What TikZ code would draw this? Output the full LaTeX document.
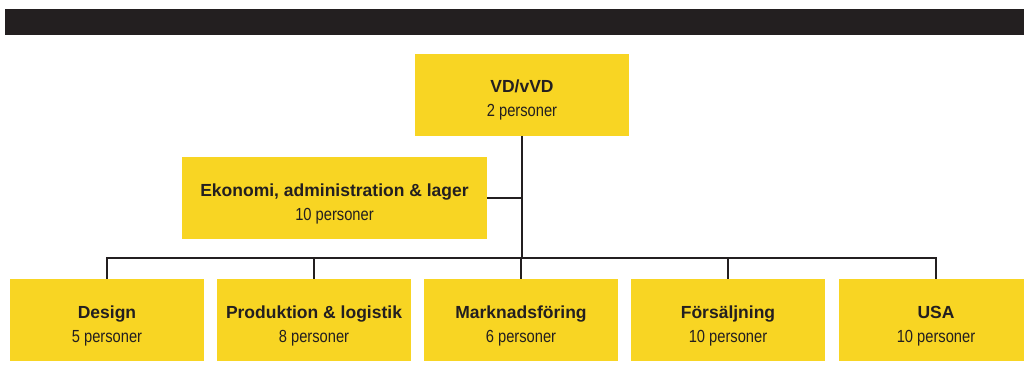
\documentclass[tikz,border=0pt]{standalone}
\usepackage{fontspec}
\setmainfont{Liberation Sans}
\newfontfamily\condfont[FakeStretch=0.84]{Liberation Sans}
\definecolor{ink}{HTML}{231F20}
\definecolor{gul}{HTML}{F8D523}
\newcommand\twoline[2]{\makebox[0pt]{\raisebox{2pt}[0pt][0pt]{\bfseries #1}}\makebox[0pt]{\raisebox{-22pt}[0pt][0pt]{\condfont #2}}}
\tikzset{
  orgbox/.style={fill=gul, draw=none, inner sep=0pt, minimum height=82pt, text=ink,
    font=\fontsize{17.5}{21}\selectfont},
  smallbox/.style={orgbox, minimum width=194pt},
  conn/.style={draw=ink, line width=1.4pt},
}
\begin{document}
\begin{tikzpicture}[x=1pt,y=-1pt]
\clip (0,0) rectangle (1024,385);
\useasboundingbox (0,0) rectangle (1024,385);
\fill[ink] (5,9) rectangle (1024,35);
\node[orgbox, minimum width=214pt] (vd) at (522,95) {\twoline{VD/vVD}{2 personer}};
\node[orgbox, minimum width=305pt] (eko) at (334.5,198) {\twoline{Ekonomi, administration \& lager}{10 personer}};
\node[smallbox] (des) at (107,320) {\twoline{Design}{5 personer}};
\node[smallbox] (pro) at (314,320) {\twoline{Produktion \& logistik}{8 personer}};
\node[smallbox] (mar) at (521,320) {\twoline{Marknadsföring}{6 personer}};
\node[smallbox] (for) at (728,320) {\twoline{Försäljning}{10 personer}};
\node[smallbox] (usa) at (936,320) {\twoline{USA}{10 personer}};
\coordinate (bus) at (522,258);
\coordinate (ekoj) at (522,198);
\draw[conn] (vd.south -| bus) -- (bus);
\draw[conn] (eko.east) -- (ekoj);
\draw[conn, line cap=rect] (des.north |- bus) -- (usa.north |- bus);
\foreach \n in {des,pro,mar,for,usa}{
  \draw[conn] (\n.north |- bus) -- (\n.north);
}
\end{tikzpicture}
\end{document}
